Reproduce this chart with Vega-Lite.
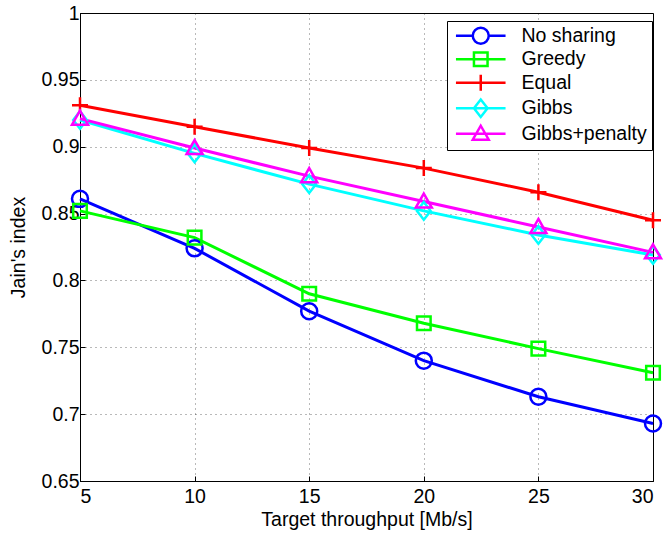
{
  "$schema": "https://vega.github.io/schema/vega-lite/v6.json",
  "width": 573,
  "height": 468,
  "autosize": "none",
  "padding": {"left": 80, "top": 13, "right": 13, "bottom": 53},
  "background": "white",
  "config": {
    "font": "Liberation Sans",
    "view": {"stroke": "black", "strokeWidth": 1},
    "axis": {
      "domainColor": "black",
      "domainWidth": 1,
      "tickColor": "black",
      "tickSize": -5,
      "labelColor": "black",
      "titleColor": "black",
      "labelFontSize": 19.5,
      "titleFontSize": 19.5,
      "titleFontWeight": "normal",
      "grid": true,
      "gridColor": "#000000",
      "gridOpacity": 0.55,
      "gridDash": [1, 4],
      "gridWidth": 1
    },
    "point": {"filled": false, "strokeWidth": 2.5, "size": 256, "opacity": 1}
  },
  "data": {
    "values": [
      {"x": 5, "y": 0.861, "s": "No sharing"},
      {"x": 10, "y": 0.824, "s": "No sharing"},
      {"x": 15, "y": 0.777, "s": "No sharing"},
      {"x": 20, "y": 0.740, "s": "No sharing"},
      {"x": 25, "y": 0.713, "s": "No sharing"},
      {"x": 30, "y": 0.693, "s": "No sharing"},
      {"x": 5, "y": 0.852, "s": "Greedy"},
      {"x": 10, "y": 0.832, "s": "Greedy"},
      {"x": 15, "y": 0.790, "s": "Greedy"},
      {"x": 20, "y": 0.768, "s": "Greedy"},
      {"x": 25, "y": 0.749, "s": "Greedy"},
      {"x": 30, "y": 0.731, "s": "Greedy"},
      {"x": 5, "y": 0.931, "s": "Equal"},
      {"x": 10, "y": 0.915, "s": "Equal"},
      {"x": 15, "y": 0.899, "s": "Equal"},
      {"x": 20, "y": 0.884, "s": "Equal"},
      {"x": 25, "y": 0.866, "s": "Equal"},
      {"x": 30, "y": 0.845, "s": "Equal"},
      {"x": 5, "y": 0.920, "s": "Gibbs"},
      {"x": 10, "y": 0.895, "s": "Gibbs"},
      {"x": 15, "y": 0.872, "s": "Gibbs"},
      {"x": 20, "y": 0.852, "s": "Gibbs"},
      {"x": 25, "y": 0.834, "s": "Gibbs"},
      {"x": 30, "y": 0.819, "s": "Gibbs"},
      {"x": 5, "y": 0.921, "s": "Gibbs+penalty"},
      {"x": 10, "y": 0.899, "s": "Gibbs+penalty"},
      {"x": 15, "y": 0.878, "s": "Gibbs+penalty"},
      {"x": 20, "y": 0.859, "s": "Gibbs+penalty"},
      {"x": 25, "y": 0.840, "s": "Gibbs+penalty"},
      {"x": 30, "y": 0.821, "s": "Gibbs+penalty"}
    ]
  },
  "encoding": {
    "x": {
      "field": "x", "type": "quantitative",
      "scale": {"domain": [5, 30], "nice": false, "zero": false},
      "axis": {"values": [5, 10, 15, 20, 25, 30], "title": "Target throughput [Mb/s]", "labelPadding": 11, "titlePadding": 5}
    },
    "y": {
      "field": "y", "type": "quantitative",
      "scale": {"domain": [0.65, 1], "nice": false, "zero": false},
      "axis": {"values": [0.65, 0.7, 0.75, 0.8, 0.85, 0.9, 0.95, 1], "format": ".2~f", "title": "Jain's index", "labelPadding": 6, "titlePadding": 13}
    },
    "color": {
      "field": "s", "type": "nominal",
      "scale": {
        "domain": ["No sharing", "Greedy", "Equal", "Gibbs", "Gibbs+penalty"],
        "range": ["#0000FF", "#00FF00", "#FF0000", "#00FFFF", "#FF00FF"]
      },
      "legend": {
        "title": null,
        "orient": "none",
        "legendX": 367,
        "legendY": 8,
        "fillColor": "white",
        "strokeColor": "black",
        "padding": 5,
        "labelFontSize": 19.5,
        "labelColor": "black",
        "symbolSize": 256,
        "symbolOffset": 19,
        "labelOffset": 31,
        "rowPadding": -2.5,
        "symbolStrokeWidth": 2.5,
        "symbolFillColor": "transparent",
        "encode": {
          "symbols": {
            "update": {
              "shape": {"signal": "datum.value === 'No sharing' ? 'M-3.1,0H-1M1,0H3.1M1,0A1,1,0,1,1,-1,0A1,1,0,1,1,1,0Z' : datum.value === 'Greedy' ? 'M-3.1,0H3.1M-0.85,-0.85H0.85V0.85H-0.85Z' : datum.value === 'Equal' ? 'M-3.1,0H3.1M0,-1V1' : datum.value === 'Gibbs' ? 'M-3.1,0H3.1M0,-1.1L0.85,0L0,1.1L-0.85,0Z' : 'M-3.1,0H3.1M0,-1L1,0.75H-1Z'"},
              "fill": {"value": "transparent"},
              "strokeWidth": {"value": 2.5}
            }
          }
        }
      }
    }
  },
  "layer": [
    {"mark": {"type": "line", "strokeWidth": 3}},
    {"transform": [{"filter": "datum.s === 'No sharing'"}], "mark": {"type": "point", "shape": "M1,0A1,1,0,1,1,-1,0A1,1,0,1,1,1,0Z"}},
    {"transform": [{"filter": "datum.s === 'Greedy'"}], "mark": {"type": "point", "shape": "M-0.85,-0.85H0.85V0.85H-0.85Z"}},
    {"transform": [{"filter": "datum.s === 'Equal'"}], "mark": {"type": "point", "shape": "M-1,0H1M0,-1V1"}},
    {"transform": [{"filter": "datum.s === 'Gibbs'"}], "mark": {"type": "point", "shape": "M0,-1.1L0.85,0L0,1.1L-0.85,0Z"}},
    {"transform": [{"filter": "datum.s === 'Gibbs+penalty'"}], "mark": {"type": "point", "shape": "M0,-1L1,0.75H-1Z"}}
  ]
}
